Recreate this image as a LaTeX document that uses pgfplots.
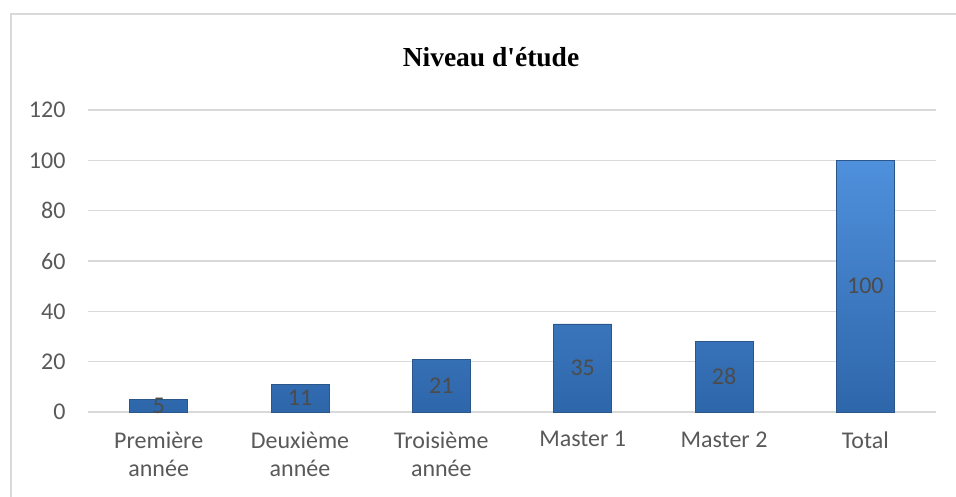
\documentclass[border=0pt]{standalone}
\usepackage{fontspec}
\setmainfont{Carlito}
\newfontfamily\titlefont{Liberation Serif}
\usepackage{pgfplots}
\pgfplotsset{compat=1.18}
\definecolor{barhi}{HTML}{4F90DC}
\definecolor{barlo}{HTML}{2E66AA}
\definecolor{baredge}{HTML}{2A5689}
\definecolor{gridgray}{HTML}{D9D9D9}
\definecolor{txtgray}{HTML}{595959}

\begin{document}
\begin{tikzpicture}
\useasboundingbox (0,0) rectangle (956pt,497pt);
\draw[gridgray, line width=1.5pt] (11pt,0) -- (11pt,483pt) -- (957pt,483pt);
\node[font=\titlefont\bfseries\fontsize{27.5}{32}\selectfont] at (491pt,440pt) {Niveau d'étude};
\begin{axis}[
  at={(88pt,85pt)}, anchor=south west,
  scale only axis, width=848pt, height=302pt,
  ymin=0, ymax=120, ytick={0,20,...,120},
  xmin=-0.5, xmax=5.5, xtick=data,
  xticklabels={Première\\année,Deuxième\\année,Troisième\\année,Master 1,Master 2,Total},
  ybar, bar width=58pt, bar shift=0pt,
  axis x line*=bottom, axis y line*=left,
  x axis line style={draw=gridgray, line width=1.2pt},
  y axis line style={draw=none},
  ymajorgrids, grid style={gridgray, line width=1.2pt},
  major tick length=0pt,
  tick label style={font=\fontsize{24}{28}\selectfont, text=txtgray},
  x tick label style={align=center, yshift=-16pt},
  yticklabel style={xshift=-19pt},
  /pgf/number format/assume math mode=true,
  clip=false
]
\addplot[top color=barhi, bottom color=barlo, draw=baredge, line width=0.8pt]
  coordinates {(0,5)(1,11)(2,21)(3,35)(4,28)(5,100)};
% value labels, centred in each bar
\addplot[draw=none, fill=none, nodes near coords, point meta=explicit,
  nodes near coords style={anchor=center, font=\fontsize{24}{26}\selectfont, text=txtgray!85!black}]
  coordinates {(0,2.5)[5] (1,5.5)[11] (2,10.5)[21] (3,17.5)[35] (4,14)[28] (5,50)[100]};
\end{axis}
\end{tikzpicture}
\end{document}
